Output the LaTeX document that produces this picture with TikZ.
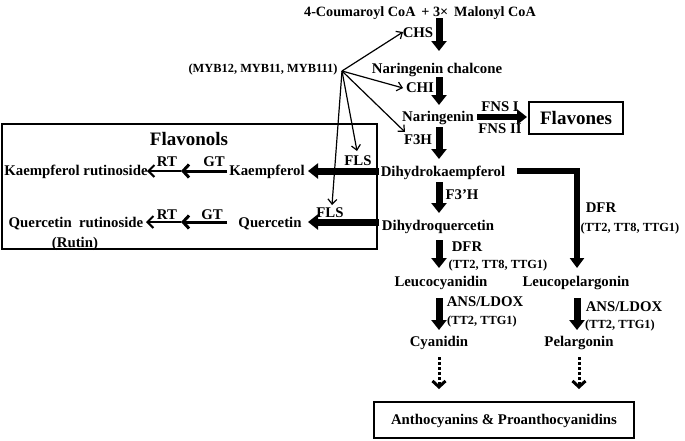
\documentclass[tikz,border=0pt]{standalone}
\usepackage{fontspec}
\setmainfont{Liberation Serif}
\usetikzlibrary{arrows.meta}
\begin{document}
\begin{tikzpicture}[x=1pt,y=-1pt,
  lbl/.style={font=\bfseries\fontsize{14.8}{16}\selectfont, inner sep=0pt, text height=9.8pt, text depth=0pt},
  sml/.style={font=\bfseries\fontsize{12.4}{14}\selectfont, inner sep=0pt, text height=8.2pt, text depth=0pt},
  big/.style={font=\bfseries\fontsize{19}{21}\selectfont, inner sep=0pt, text height=12.6pt, text depth=0pt},
  mainarrow/.style={line width=7pt, -{Triangle[width=15pt,length=10pt]}},
  branch/.style={line width=5.5pt, line join=miter, -{Triangle[width=14pt,length=10pt]}},
  regarrow/.style={line width=1.2pt, -{Straight Barb[length=5pt,width=9pt]}},
  gtarrow/.style={line width=3pt, -{Straight Barb[length=6pt,width=13pt]}},
  rtarrow/.style={line width=2pt, -{Straight Barb[length=6pt,width=12pt]}},
  dotarrow/.style={line width=3pt, dash pattern=on 3pt off 2pt, -{Straight Barb[length=6pt,width=13pt]}},
  boxed/.style={draw, line width=1.8pt}
]
\useasboundingbox (0,0) rectangle (685,440);

% nodes
\node[lbl, font=\bfseries\fontsize{14.2}{16}\selectfont] (title) at (420,12) {4-Coumaroyl CoA\ \,+ 3×\ \,Malonyl CoA};
\node[lbl] (chs) at (418,33) {CHS};
\node[lbl] (narch) at (437,69) {Naringenin chalcone};
\node[lbl] (chi) at (420,88) {CHI};
\node[lbl] (nar) at (438,117) {Naringenin};
\node[lbl] (fnsi) at (500,107) {FNS I};
\node[lbl] (fnsii) at (500,129) {FNS II};
\node[big, boxed, minimum width=94pt, minimum height=32pt] (flavones) at (576,118) {Flavones};
\node[lbl] (f3h) at (418,140) {F3H};
\node[lbl] (dhk) at (443,172) {Dihydrokaempferol};
\node[lbl] (f3ph) at (462,195) {F3’H};
\node[lbl] (dhq) at (438,226) {Dihydroquercetin};
\node[lbl] (dfr) at (467,247) {DFR};
\node[sml] (tta) at (498,264) {(TT2, TT8, TTG1)};
\node[lbl] (dfrb) at (601,208) {DFR};
\node[sml] (ttb) at (630,227) {(TT2, TT8, TTG1)};
\node[lbl] (leuc) at (441,282) {Leucocyanidin};
\node[lbl] (leup) at (576,282) {Leucopelargonin};
\node[lbl] (ans) at (485,302) {ANS/LDOX};
\node[sml] (ttc) at (482,320) {(TT2, TTG1)};
\node[lbl] (ansb) at (624,307) {ANS/LDOX};
\node[sml] (ttd) at (620,324) {(TT2, TTG1)};
\node[lbl] (cya) at (439,342) {Cyanidin};
\node[lbl] (pel) at (579,342) {Pelargonin};
\node[lbl, boxed, minimum width=260pt, minimum height=36pt, text depth=0pt] (antho) at (504,420) {Anthocyanins \& Proanthocyanidins};
\node[sml] (myb) at (263,68) {(MYB12, MYB11, MYB111)};

% flavonols box
\node[draw, line width=1.8pt, minimum width=375pt, minimum height=125pt, inner sep=0pt] (flbox) at (189.5,186.5) {};
\node[big] (flavonols) at (189,139) {Flavonols};
\node[lbl] (kaem) at (267,171) {Kaempferol};
\node[lbl] (fls1) at (358,161) {FLS};
\node[lbl] (gt1) at (214,162) {GT};
\node[lbl] (rt1) at (167,162) {RT};
\node[lbl] (kr) at (76,171) {Kaempferol rutinoside};
\node[lbl] (quer) at (270,223) {Quercetin};
\node[lbl] (fls2) at (330,213) {FLS};
\node[lbl] (gt2) at (212,215) {GT};
\node[lbl] (rt2) at (167,215) {RT};
\node[lbl] (qr) at (76,223) {Quercetin~ rutinoside};
\node[lbl] (rutin) at (75,243) {(Rutin)};

% coordinates for arrow ends
\coordinate (c1a) at (439,18);  \coordinate (c1b) at (439,51);
\coordinate (c2a) at (439,77);  \coordinate (c2b) at (439,105);
\coordinate (c3a) at (439,127); \coordinate (c3b) at (439,159);
\coordinate (c4a) at (439,182); \coordinate (c4b) at (439,213);
\coordinate (c5a) at (439,240); \coordinate (c5b) at (439,268);
\coordinate (c6a) at (439,298); \coordinate (c6b) at (439,330);
\coordinate (r1a) at (517,171); \coordinate (r1m) at (577,171); \coordinate (r1b) at (577,268);
\coordinate (r2a) at (577,298); \coordinate (r2b) at (577,330);
\coordinate (fa) at (477,117);  \coordinate (fb) at (527,117);
\coordinate (k0) at (379,171);  \coordinate (k1) at (308,171);
\coordinate (q0) at (379,222);  \coordinate (q1) at (308,222);
\coordinate (kg0) at (227,171); \coordinate (kg1) at (181,171); \coordinate (kr1) at (147,171);
\coordinate (qg0) at (227,222); \coordinate (qg1) at (181,222); \coordinate (qr1) at (146,222);
\coordinate (myo) at (342,71);
\coordinate (tchs) at (403,32); \coordinate (tchi) at (403,88); \coordinate (tf3h) at (405,132);
\coordinate (tfls1) at (357,151); \coordinate (tfls2) at (332,205);
\coordinate (d1a) at (439,357); \coordinate (d1b) at (439,389);
\coordinate (d2a) at (579,357); \coordinate (d2b) at (579,389);

% main pathway
\draw[mainarrow] (c1a) -- (c1b);
\draw[mainarrow] (c2a) -- (c2b);
\draw[mainarrow] (c3a) -- (c3b);
\draw[mainarrow] (c4a) -- (c4b);
\draw[mainarrow] (c5a) -- (c5b);
\draw[mainarrow] (c6a) -- (c6b);
\draw[branch] (r1a) -- (r1m) -- (r1b);
\draw[mainarrow] (r2a) -- (r2b);
\draw[line width=6pt, -{Triangle[width=15pt,length=10pt]}] (fa) -- (fb);

% flavonols
\draw[mainarrow] (k0) -- (k1);
\draw[mainarrow] (q0) -- (q1);
\draw[gtarrow] (kg0) -- (kg1);
\draw[rtarrow] (kg1) -- (kr1);
\draw[gtarrow] (qg0) -- (qg1);
\draw[rtarrow] (qg1) -- (qr1);

% regulators
\draw[regarrow] (myo) -- (tchs);
\draw[regarrow] (myo) -- (tchi);
\draw[regarrow] (myo) -- (tf3h);
\draw[regarrow] (myo) -- (tfls1);
\draw[regarrow] (myo) -- (tfls2);

% dotted
\draw[dotarrow] (d1a) -- (d1b);
\draw[dotarrow] (d2a) -- (d2b);
\end{tikzpicture}
\end{document}
